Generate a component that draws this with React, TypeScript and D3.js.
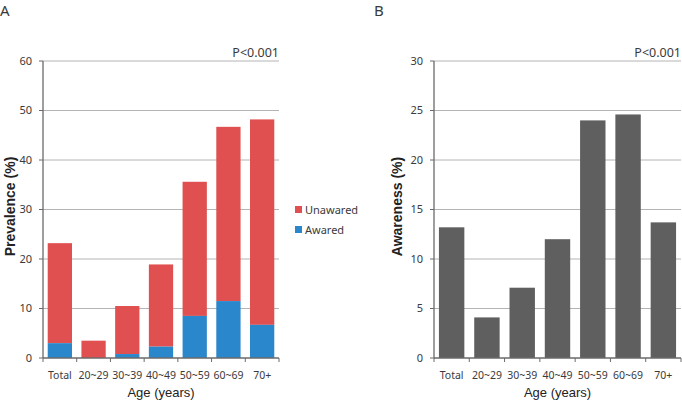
import * as d3 from "d3";

const categories = ["Total", "20~29", "30~39", "40~49", "50~59", "60~69", "70+"];
const prevalenceTotal = [23.2, 3.5, 10.5, 18.9, 35.6, 46.7, 48.2];
const awaredValues = [3.0, 0, 0.8, 2.3, 8.5, 11.5, 6.7];
const awarenessValues = [13.2, 4.1, 7.1, 12.0, 24.0, 24.6, 13.7];
const ticksA = [0, 10, 20, 30, 40, 50, 60];
const ticksB = [0, 5, 10, 15, 20, 25, 30];

const RED = "#e05050";
const BLUE = "#2b87cb";
const GRAY = "#5f5f5f";
const GRID = "#b4b4b4";
const AXIS = "#6a6a6a";
const TEXT = "#3a3a3a";
const tickFont = "'Noto Sans', 'Open Sans', sans-serif";
const titleFont = "'Liberation Sans', Arial, sans-serif";

function Panel(props: {
  x0: number;
  x1: number;
  ymax: number;
  ticks: number[];
  yTitle: string;
  yTitleX: number;
  letter: string;
  letterX: number;
  children: (x: d3.ScaleBand<string>, y: d3.ScaleLinear<number, number>) => any;
}) {
  const top = 61;
  const bottom = 358;
  const x = d3.scaleBand<string>().domain(categories).range([props.x0, props.x1]).paddingInner(0.28).paddingOuter(0.14);
  const y = d3.scaleLinear().domain([0, props.ymax]).range([bottom, top]);
  const step = x.step();
  const start = props.x0;
  return (
    <g>
      <text x={props.letterX} y={16} fontFamily={tickFont} fontSize={15} fill={TEXT}>
        {props.letter}
      </text>
      {props.ticks.map((t) => (
        <g key={t}>
          {t > 0 && <line x1={props.x0} x2={props.x1} y1={y(t)} y2={y(t)} stroke={GRID} strokeWidth={1} />}
          <line x1={props.x0 - 4} x2={props.x0} y1={y(t)} y2={y(t)} stroke={AXIS} />
          <text x={props.x0 - 11} y={y(t)} dy="0.35em" textAnchor="end" fontFamily={tickFont} fontSize={11} fill={TEXT}>
            {t}
          </text>
        </g>
      ))}
      {props.children(x, y)}
      <line x1={props.x0} x2={props.x0} y1={top} y2={bottom} stroke={AXIS} strokeWidth={1.3} />
      <line x1={props.x0} x2={props.x1} y1={bottom} y2={bottom} stroke={AXIS} strokeWidth={1.3} />
      <line x1={start} x2={start} y1={bottom} y2={bottom + 4} stroke={AXIS} />
      {categories.map((c, i) => (
        <g key={c}>
          <line x1={start + step * (i + 1)} x2={start + step * (i + 1)} y1={bottom} y2={bottom + 4} stroke={AXIS} />
          <text x={(x(c) ?? 0) + x.bandwidth() / 2} y={379} textAnchor="middle" fontFamily={tickFont} fontSize={10.5} fill={TEXT}>
            {c}
          </text>
        </g>
      ))}
      <text x={props.x1} y={57} textAnchor="end" fontFamily={tickFont} fontSize={12.5} fill={TEXT}>
        P&lt;0.001
      </text>
      <text x={(props.x0 + props.x1) / 2} y={397} textAnchor="middle" fontFamily={titleFont} fontSize={13} fill="#222">
        Age (years)
      </text>
      <text
        transform={`translate(${props.yTitleX},${(top + bottom) / 2 - 3}) rotate(-90)`}
        textAnchor="middle"
        fontFamily={titleFont}
        fontWeight="bold"
        fontSize={14}
        fill="#222"
      >
        {props.yTitle}
      </text>
    </g>
  );
}

export default function App() {
  return (
    <svg width={682} height={400} style={{ position: "absolute", left: 0, top: 0, background: "#fff" }}>
      <Panel x0={43} x1={279} ymax={60} ticks={ticksA} yTitle="Prevalence (%)" yTitleX={15} letter="A" letterX={0}>
        {(x, y) =>
          categories.map((c, i) => (
            <g key={c}>
              <rect x={x(c)} width={x.bandwidth()} y={y(prevalenceTotal[i])} height={y(awaredValues[i]) - y(prevalenceTotal[i])} fill={RED} />
              <rect x={x(c)} width={x.bandwidth()} y={y(awaredValues[i])} height={y(0) - y(awaredValues[i])} fill={BLUE} />
            </g>
          ))
        }
      </Panel>
      <g fontFamily={tickFont} fontSize={11} fill={TEXT}>
        <rect x={295} y={206} width={7} height={7} fill={RED} />
        <text x={305} y={214}>Unawared</text>
        <rect x={295} y={226} width={7} height={7} fill={BLUE} />
        <text x={305} y={234}>Awared</text>
      </g>
      <Panel x0={434} x1={681} ymax={30} ticks={ticksB} yTitle="Awareness (%)" yTitleX={402} letter="B" letterX={374}>
        {(x, y) =>
          categories.map((c, i) => (
            <rect key={c} x={x(c)} width={x.bandwidth()} y={y(awarenessValues[i])} height={y(0) - y(awarenessValues[i])} fill={GRAY} />
          ))
        }
      </Panel>
    </svg>
  );
}
